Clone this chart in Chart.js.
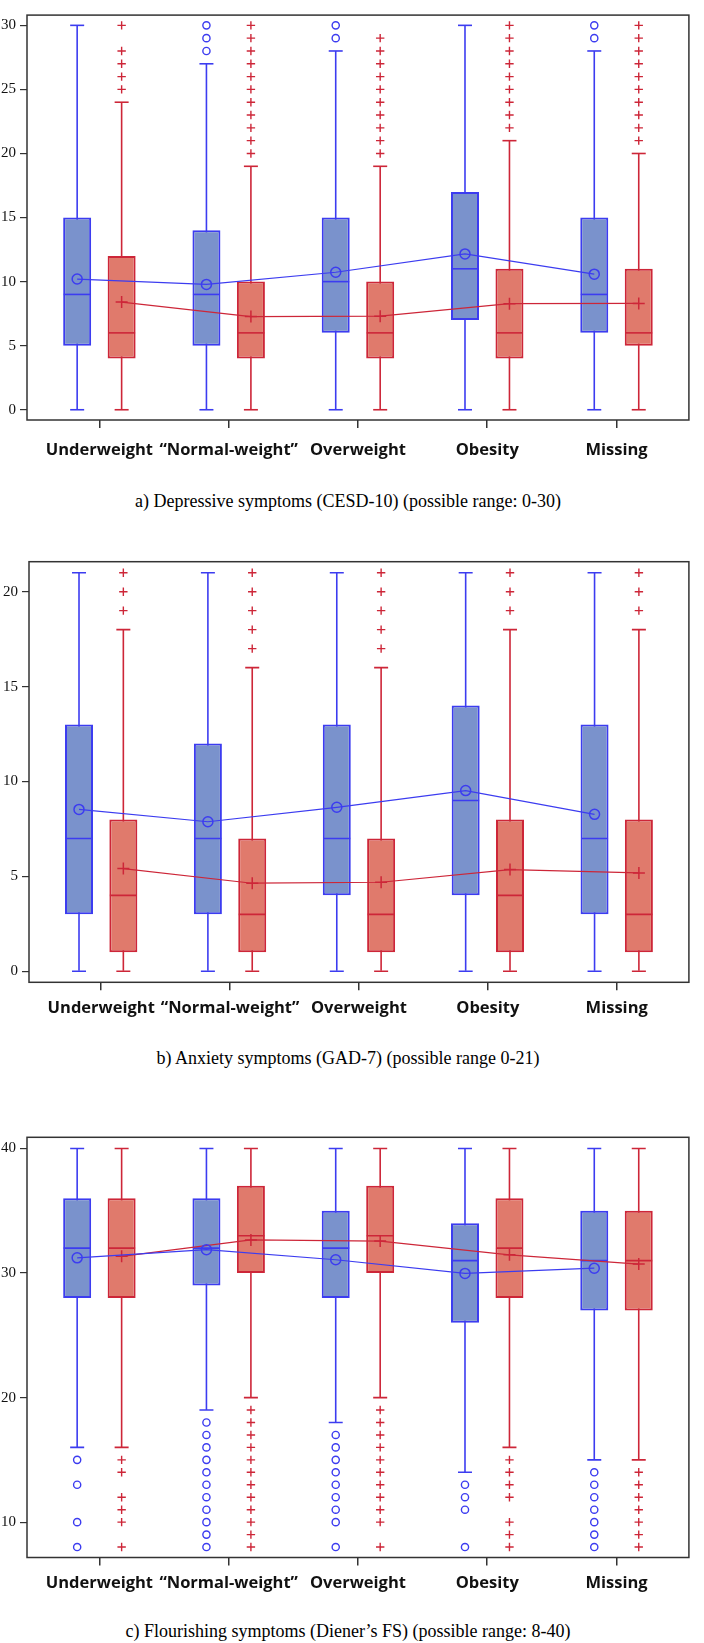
<!DOCTYPE html>
<html><head><meta charset="utf-8">
<script src="https://cdn.jsdelivr.net/npm/chart.js@4.4.1/dist/chart.umd.min.js"></script>
<style>
html,body{margin:0;padding:0;background:#fff;}
body{width:704px;height:1643px;position:relative;overflow:hidden;}
.panel{position:absolute;left:0;width:704px;}
.panel canvas{display:block;}
.cap{position:absolute;left:0;width:696px;text-align:center;font-family:'Liberation Serif','Times New Roman',serif;font-size:18px;line-height:20px;color:#000;white-space:nowrap;}
</style></head><body>
<div class="panel" style="top:0;height:470px"><canvas id="cA" width="704" height="470"></canvas></div>
<div class="cap" style="top:491px">a) Depressive symptoms (CESD-10) (possible range: 0-30)</div>
<div class="panel" style="top:540px;height:490px"><canvas id="cB" width="704" height="490"></canvas></div>
<div class="cap" style="top:1048px">b) Anxiety symptoms (GAD-7) (possible range 0-21)</div>
<div class="panel" style="top:1110px;height:500px"><canvas id="cC" width="704" height="500"></canvas></div>
<div class="cap" style="top:1621px">c) Flourishing symptoms (Diener’s FS) (possible range: 8-40)</div>
<script>
// ---------- data ----------
const categories = ['Underweight', '“Normal-weight”', 'Overweight', 'Obesity', 'Missing'];

// a) CESD-10
const aTicks = [0, 5, 10, 15, 20, 25, 30];
const aBlueMin  = [0, 0, 0, 0, 0];
const aBlueQ1   = [5, 5, 6, 7, 6];
const aBlueMed  = [9, 9, 10, 11, 9];
const aBlueQ3   = [15, 14, 15, 17, 15];
const aBlueMax  = [30, 27, 28, 30, 28];
const aBlueMean = [10.2, 9.78, 10.73, 12.16, 10.58];
const aBlueOut  = [[], [28, 29, 30], [29, 30], [], [29, 30]];
const aRedMin  = [0, 0, 0, 0, 0];
const aRedQ1   = [4, 4, 4, 4, 5];
const aRedMed  = [6, 6, 6, 6, 6];
const aRedQ3   = [12, 10, 10, 11, 11];
const aRedMax  = [24, 19, 19, 21, 20];
const aRedMean = [8.4, 7.27, 7.3, 8.28, 8.3];
const aRedOut  = [[25, 26, 27, 28, 30],
                  [20, 21, 22, 23, 24, 25, 26, 27, 28, 29, 30],
                  [20, 21, 22, 23, 24, 25, 26, 27, 28, 29],
                  [22, 23, 24, 25, 26, 27, 28, 29, 30],
                  [21, 22, 23, 24, 25, 26, 27, 28, 29, 30]];

// b) GAD-7
const bTicks = [0, 5, 10, 15, 20];
const bBlueMin  = [0, 0, 0, 0, 0];
const bBlueQ1   = [3, 3, 4, 4, 3];
const bBlueMed  = [7, 7, 7, 9, 7];
const bBlueQ3   = [13, 12, 13, 14, 13];
const bBlueMax  = [21, 21, 21, 21, 21];
const bBlueMean = [8.53, 7.88, 8.64, 9.52, 8.27];
const bBlueOut  = [[], [], [], [], []];
const bRedMin  = [0, 0, 0, 0, 0];
const bRedQ1   = [1, 1, 1, 1, 1];
const bRedMed  = [4, 3, 3, 4, 3];
const bRedQ3   = [8, 7, 7, 8, 8];
const bRedMax  = [18, 16, 16, 18, 18];
const bRedMean = [5.41, 4.64, 4.69, 5.36, 5.18];
const bRedOut  = [[19, 20, 21], [17, 18, 19, 20, 21], [17, 18, 19, 20, 21], [19, 20, 21], [19, 20, 21]];

// c) Diener's FS
const cTicks = [10, 20, 30, 40];
const cBlueMin  = [16, 19, 18, 14, 15];
const cBlueQ1   = [28, 29, 28, 26, 27];
const cBlueMed  = [32, 32, 32, 31, 31];
const cBlueQ3   = [36, 36, 35, 34, 35];
const cBlueMax  = [40, 40, 40, 40, 40];
const cBlueMean = [31.22, 31.88, 31.07, 29.97, 30.39];
const cBlueOut  = [[8, 10, 13, 15],
                   [8, 9, 10, 11, 12, 13, 14, 15, 16, 17, 18],
                   [8, 10, 11, 12, 13, 14, 15, 16, 17],
                   [8, 11, 12, 13],
                   [8, 9, 10, 11, 12, 13, 14]];
const cRedMin  = [16, 20, 20, 16, 15];
const cRedQ1   = [28, 30, 30, 28, 27];
const cRedMed  = [32, 33, 33, 32, 31];
const cRedQ3   = [36, 37, 37, 36, 35];
const cRedMax  = [40, 40, 40, 40, 40];
const cRedMean = [31.34, 32.66, 32.57, 31.46, 30.72];
const cRedOut  = [[8, 10, 11, 12, 14, 15],
                  [8, 9, 10, 11, 12, 13, 14, 15, 16, 17, 18, 19],
                  [8, 10, 11, 12, 13, 14, 15, 16, 17, 18, 19],
                  [8, 9, 10, 12, 13, 14, 15],
                  [8, 9, 10, 11, 12, 13, 14]];

// ---------- styles ----------
const BLUE = {line: '#3c3cf0', fill: '#7a92cc', off: -0.172, mean: 'circle', meanR: 5, outStyle: 'circle', outR: 3.6};
const RED  = {line: '#cd2638', fill: '#e07a6c', off: 0.172, mean: 'cross', meanR: 6, outStyle: 'cross', outR: 4.2};

const framePlugin = {
  id: 'frame',
  afterDraw(chart) {
    const {ctx, chartArea: a} = chart;
    ctx.save();
    ctx.strokeStyle = '#333';
    ctx.lineWidth = 1.5;
    ctx.strokeRect(a.left, a.top, a.right - a.left, a.bottom - a.top);
    ctx.restore();
  }
};

function groupDatasets(g, st) {
  const X = i => i + 1 + st.off;
  const outPts = [];
  g.out.forEach((arr, i) => arr.forEach(v => outPts.push({x: X(i), y: v})));
  return [
    {type: 'bar', data: categories.map((c, i) => ({x: X(i), y: [g.min[i], g.max[i]]})),
     backgroundColor: st.line, borderWidth: 0, grouped: false, maxBarThickness: 1.6, order: 5},
    {type: 'bar', data: categories.map((c, i) => ({x: X(i), y: [g.q1[i], g.q3[i]]})),
     backgroundColor: st.fill, borderColor: st.line, borderWidth: 2, borderSkipped: false,
     grouped: false, maxBarThickness: 28, order: 4},
    {type: 'scatter', data: categories.map((c, i) => ({x: X(i), y: g.min[i]}))
        .concat(categories.map((c, i) => ({x: X(i), y: g.max[i]}))),
     pointStyle: 'line', pointRadius: 7, borderColor: st.line, borderWidth: 1.6, order: 3},
    {type: 'scatter', data: categories.map((c, i) => ({x: X(i), y: g.med[i]})),
     pointStyle: 'line', pointRadius: 13.5, borderColor: st.line, borderWidth: 1.6, order: 2},
    {type: 'scatter', data: outPts, pointStyle: st.outStyle, pointRadius: st.outR,
     backgroundColor: 'rgba(0,0,0,0)', borderColor: st.line, borderWidth: 1.4, order: 1},
    {type: 'line', data: categories.map((c, i) => ({x: X(i), y: g.mean[i]})),
     borderColor: st.line, borderWidth: 1.2, pointStyle: st.mean, pointRadius: st.meanR,
     pointBackgroundColor: 'rgba(0,0,0,0)', pointBorderColor: st.line, pointBorderWidth: 1.5,
     tension: 0, fill: false, order: 0}
  ];
}

function makeChart(id, L, ymin, ymax, yTicks, blue, red) {
  new Chart(document.getElementById(id), {
    type: 'scatter',
    data: {datasets: groupDatasets(blue, BLUE).concat(groupDatasets(red, RED))},
    options: {
      responsive: false, animation: false, events: [],
      layout: {padding: {top: L.top, left: L.left, right: L.right, bottom: 0}},
      plugins: {legend: {display: false}, tooltip: {enabled: false}},
      scales: {
        x: {
          type: 'linear', min: 0.44, max: 5.56, offset: false,
          afterBuildTicks: s => { s.ticks = categories.map((c, i) => ({value: i + 1})); },
          afterFit: s => { s.height = L.xh; },
          ticks: {callback: v => categories[Math.round(v) - 1], autoSkip: false, maxRotation: 0,
                  font: {family: 'Open Sans', weight: 'bold', size: 16.5}, color: '#111', padding: L.xpad},
          grid: {offset: false, drawOnChartArea: false, drawTicks: true, tickLength: 8, color: '#333', lineWidth: 1.5},
          border: {display: false}
        },
        y: {
          type: 'linear', min: ymin, max: ymax,
          afterBuildTicks: s => { s.ticks = yTicks.map(v => ({value: v})); },
          afterFit: s => { s.width = 27; },
          ticks: {font: {family: 'Liberation Serif', size: 15}, color: '#111', padding: 4},
          grid: {offset: false, drawOnChartArea: false, drawTicks: true, tickLength: 7, color: '#333', lineWidth: 1.2},
          border: {display: false}
        }
      }
    },
    plugins: [framePlugin]
  });
}

makeChart('cA', {top: 1, left: 0, right: 2, xh: 50, xpad: 12}, -0.8, 30.8, aTicks,
  {min: aBlueMin, q1: aBlueQ1, med: aBlueMed, q3: aBlueQ3, max: aBlueMax, mean: aBlueMean, out: aBlueOut},
  {min: aRedMin, q1: aRedQ1, med: aRedMed, q3: aRedQ3, max: aRedMax, mean: aRedMean, out: aRedOut});
makeChart('cB', {top: 21.7, left: 2, right: 1.3, xh: 47.7, xpad: 8}, -0.58, 21.58, bTicks,
  {min: bBlueMin, q1: bBlueQ1, med: bBlueMed, q3: bBlueQ3, max: bBlueMax, mean: bBlueMean, out: bBlueOut},
  {min: bRedMin, q1: bRedQ1, med: bRedMed, q3: bRedQ3, max: bRedMax, mean: bRedMean, out: bRedOut});
makeChart('cC', {top: 27.3, left: 0, right: 3, xh: 52.5, xpad: 8}, 7.16, 40.9, cTicks,
  {min: cBlueMin, q1: cBlueQ1, med: cBlueMed, q3: cBlueQ3, max: cBlueMax, mean: cBlueMean, out: cBlueOut},
  {min: cRedMin, q1: cRedQ1, med: cRedMed, q3: cRedQ3, max: cRedMax, mean: cRedMean, out: cRedOut});
</script>
</body></html>
